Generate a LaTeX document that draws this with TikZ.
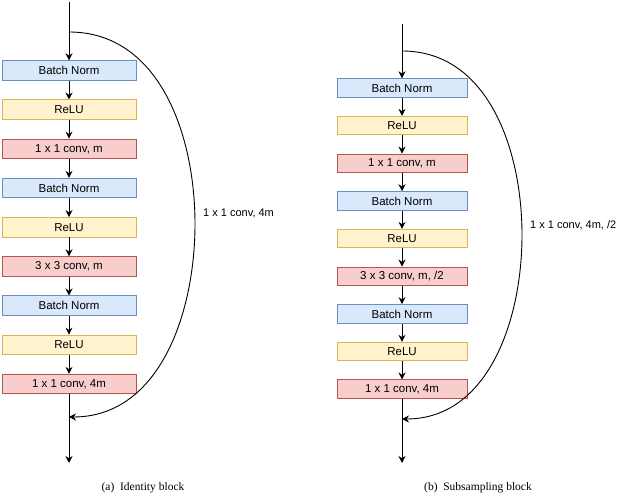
\documentclass[tikz,border=0pt]{standalone}
\usepackage{fontspec}
\setmainfont{Liberation Serif}
\setsansfont{Liberation Sans}
\usepackage{tikz}
\usetikzlibrary{
  arrows.meta,
  positioning
}

\definecolor{bnfill}{HTML}{DAE8FC}
\definecolor{bndraw}{HTML}{6C8EBF}
\definecolor{relufill}{HTML}{FFF2CC}
\definecolor{reludraw}{HTML}{D6B656}
\definecolor{convfill}{HTML}{F8CECC}
\definecolor{convdraw}{HTML}{B85450}

\begin{document}
\begin{tikzpicture}[
x=1pt,y=1pt,
bloco/.style={
draw,
line width=0.9pt,
minimum width=134pt,
minimum height=19.5pt,
inner sep=0pt,
font=\sffamily\fontsize{11.5}{13}\selectfont
},
bn/.style={bloco,fill=bnfill,draw=bndraw},
relu/.style={bloco,fill=relufill,draw=reludraw},
conv/.style={bloco,fill=convfill,draw=convdraw},
fluxo/.style={-{Stealth[length=7pt,width=7pt]},line width=0.9pt},
rotulo/.style={font=\sffamily\fontsize{11}{13}\selectfont,anchor=west,inner sep=0pt},
titulo/.style={font=\fontsize{11.5}{14}\selectfont,inner sep=0pt}
]

\useasboundingbox (0,0) rectangle (618,494);

\coordinate (in1) at (69,492);
\coordinate (br1) at (69,462);

\node[bn] (a1) at (69,423.5) {Batch Norm};
\node[relu,below=18.8pt of a1] (a2) {ReLU};
\node[conv,below=18.8pt of a2] (a3) {1 x 1 conv, m};
\node[bn,below=18.8pt of a3] (a4) {Batch Norm};
\node[relu,below=18.8pt of a4] (a5) {ReLU};
\node[conv,below=18.8pt of a5] (a6) {3 x 3 conv, m};
\node[bn,below=18.8pt of a6] (a7) {Batch Norm};
\node[relu,below=18.8pt of a7] (a8) {ReLU};
\node[conv,below=18.8pt of a8] (a9) {1 x 1 conv, 4m};

\coordinate (mg1) at (69,77);
\coordinate (out1) at (69,31);
\coordinate (pk1) at (195,270);
\node[rotulo] (skip1) at (203,281) {1 x 1 conv, 4m};

\draw[fluxo] (in1)--(a1);
\draw[fluxo] (a1)--(a2);
\draw[fluxo] (a2)--(a3);
\draw[fluxo] (a3)--(a4);
\draw[fluxo] (a4)--(a5);
\draw[fluxo] (a5)--(a6);
\draw[fluxo] (a6)--(a7);
\draw[fluxo] (a7)--(a8);
\draw[fluxo] (a8)--(a9);
\draw[fluxo] (a9)--(out1);
\draw[fluxo] (br1) to[out=0,in=90] (pk1) to[out=-90,in=0] (mg1);

\node[titulo] (capa) at (143,6.5) {(a)\enspace Identity block};

\begin{scope}[bloco/.append style={minimum width=130pt,minimum height=18.5pt}]
\coordinate (in2) at (402,470);
\coordinate (br2) at (402,443);

\node[bn] (b1) at (402,406) {Batch Norm};
\node[relu,below=18.25pt of b1] (b2) {ReLU};
\node[conv,below=18.25pt of b2] (b3) {1 x 1 conv, m};
\node[bn,below=18.25pt of b3] (b4) {Batch Norm};
\node[relu,below=18.25pt of b4] (b5) {ReLU};
\node[conv,below=18.25pt of b5] (b6) {3 x 3 conv, m, /2};
\node[bn,below=18.25pt of b6] (b7) {Batch Norm};
\node[relu,below=18.25pt of b7] (b8) {ReLU};
\node[conv,below=18.25pt of b8] (b9) {1 x 1 conv, 4m};

\coordinate (mg2) at (402,75);
\coordinate (out2) at (402,31);
\coordinate (pk2) at (522,259);
\node[rotulo] (skip2) at (530,269) {1 x 1 conv, 4m, /2};

\draw[fluxo] (in2)--(b1);
\draw[fluxo] (b1)--(b2);
\draw[fluxo] (b2)--(b3);
\draw[fluxo] (b3)--(b4);
\draw[fluxo] (b4)--(b5);
\draw[fluxo] (b5)--(b6);
\draw[fluxo] (b6)--(b7);
\draw[fluxo] (b7)--(b8);
\draw[fluxo] (b8)--(b9);
\draw[fluxo] (b9)--(out2);
\draw[fluxo] (br2) to[out=0,in=90] (pk2) to[out=-90,in=0] (mg2);
\end{scope}

\node[titulo] (capb) at (478,6.5) {(b)\enspace Subsampling block};

\end{tikzpicture}
\end{document}
